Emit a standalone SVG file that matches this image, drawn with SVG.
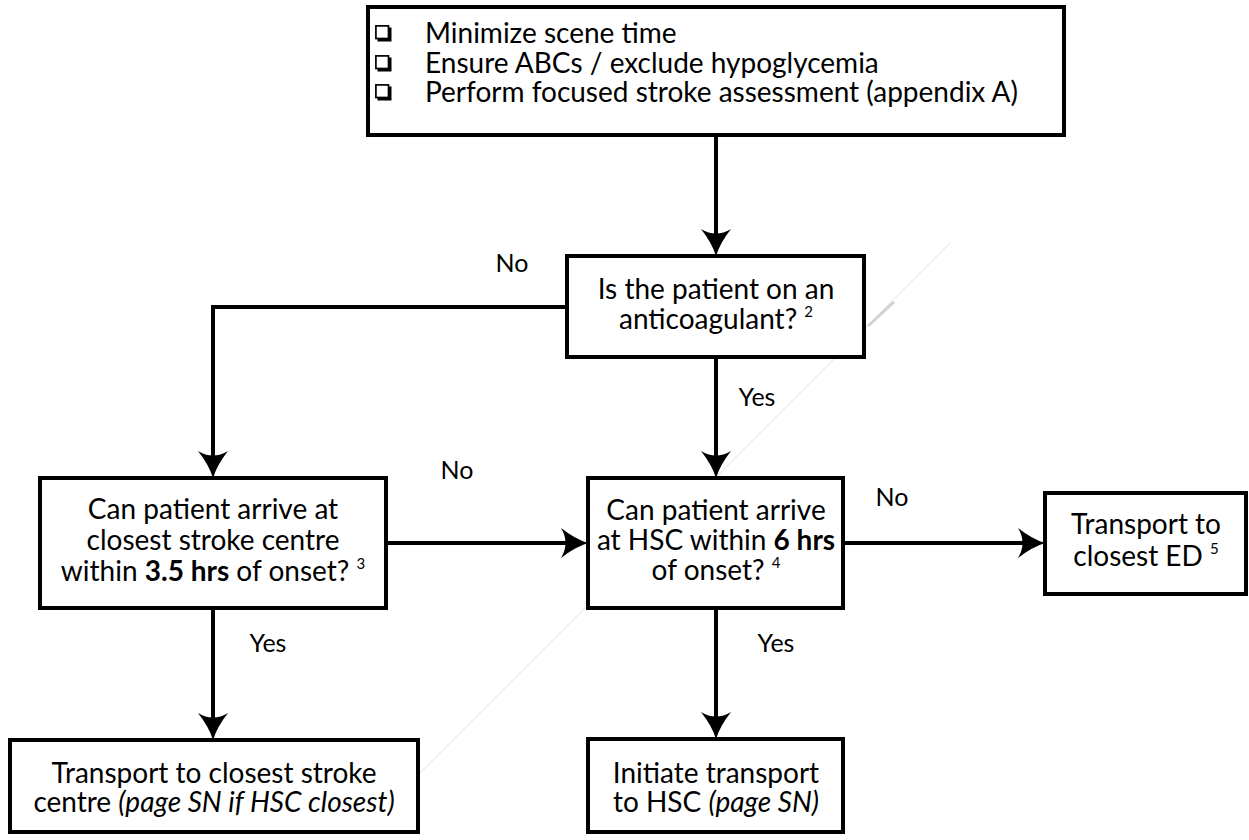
<svg xmlns="http://www.w3.org/2000/svg" width="1249" height="840" viewBox="0 0 1249 840">
<style>
.box{fill:#fff;stroke:#000;stroke-width:4}
.con{fill:none;stroke:#000;stroke-width:4}
text{font-family:Lato,"Open Sans","Liberation Sans",sans-serif;font-size:28px;fill:#000}
.lbl{font-size:25px;text-anchor:middle}
.c{text-anchor:middle}
.b{font-weight:bold}
.i{font-style:italic}
.sup{font-size:15px}
.cb{fill:none;stroke:#000;stroke-width:1.7}
</style>
<defs>
<marker id="ah" markerUnits="userSpaceOnUse" viewBox="-28 -16 29 32" markerWidth="29" markerHeight="32" refX="-10" refY="0" orient="auto">
<path d="M0,0 Q-13,-4 -27,-15 Q-18,0 -27,15 Q-13,4 0,0 Z" fill="#000"/>
</marker>
<g id="chk">
<rect x="0.9" y="0.9" width="12.6" height="12.6" class="cb"/>
<path d="M2.5,13.5 H16.5 V16.5 H2.5 Z M13.5,2.5 H16.5 V16.5 H13.5 Z" fill="#000"/>
</g>
</defs>
<rect width="1249" height="840" fill="#fff"/>
<g id="stray">
<line x1="418" y1="775" x2="950" y2="243" stroke="#e2e2e2" stroke-width="1"/>
<line x1="868" y1="326" x2="894" y2="302" stroke="#d2d2d2" stroke-width="3"/>
</g>
<g id="connectors">
<path class="con" d="M716,135 V246" marker-end="url(#ah)"/>
<path class="con" d="M567,307 H213 V468" marker-end="url(#ah)"/>
<path class="con" d="M716,357 V468" marker-end="url(#ah)"/>
<path class="con" d="M386,543 H578" marker-end="url(#ah)"/>
<path class="con" d="M843,543 H1035" marker-end="url(#ah)"/>
<path class="con" d="M213,608 V730" marker-end="url(#ah)"/>
<path class="con" d="M716,608 V729" marker-end="url(#ah)"/>
<text class="lbl" x="512" y="272">No</text>
<text class="lbl" x="757" y="406">Yes</text>
<text class="lbl" x="457" y="479">No</text>
<text class="lbl" x="892" y="506">No</text>
<text class="lbl" x="268" y="652">Yes</text>
<text class="lbl" x="776" y="652">Yes</text>
</g>
<g id="n-start">
<rect class="box" x="368" y="7" width="696" height="128"/>
<use href="#chk" x="375" y="25"/>
<use href="#chk" x="375" y="55"/>
<use href="#chk" x="375" y="84"/>
<text x="425" y="43">Minimize scene time</text>
<text x="425" y="73">Ensure ABCs / exclude hypoglycemia</text>
<text x="425" y="102">Perform focused stroke assessment (appendix A)</text>
</g>
<g id="n-anticoag">
<rect class="box" x="567" y="256" width="297" height="101"/>
<text class="c" x="716" y="299">Is the patient on an</text>
<text class="c" x="716" y="329">anticoagulant? <tspan class="sup" dy="-12">2</tspan></text>
</g>
<g id="n-closest">
<rect class="box" x="40" y="478" width="346" height="130"/>
<text class="c" x="213" y="519">Can patient arrive at</text>
<text class="c" x="213" y="550">closest stroke centre</text>
<text class="c" x="213" y="581">within <tspan class="b">3.5 hrs</tspan> of onset? <tspan class="sup" dy="-12">3</tspan></text>
</g>
<g id="n-hsc">
<rect class="box" x="588" y="478" width="255" height="130"/>
<text class="c" x="716" y="520">Can patient arrive</text>
<text class="c" x="716" y="550">at HSC within <tspan class="b">6 hrs</tspan></text>
<text class="c" x="716" y="580">of onset? <tspan class="sup" dy="-12">4</tspan></text>
</g>
<g id="n-ed">
<rect class="box" x="1045" y="493" width="201" height="101"/>
<text class="c" x="1146" y="534">Transport to</text>
<text class="c" x="1146" y="566">closest ED <tspan class="sup" dy="-12">5</tspan></text>
</g>
<g id="n-stroke">
<rect class="box" x="10" y="740" width="408" height="92"/>
<text class="c" x="214" y="783">Transport to closest stroke</text>
<text class="c" x="214" y="812">centre <tspan class="i">(page SN if HSC closest)</tspan></text>
</g>
<g id="n-transport">
<rect class="box" x="588" y="739" width="255" height="93"/>
<text class="c" x="716" y="783">Initiate transport</text>
<text class="c" x="716" y="812">to HSC <tspan class="i">(page SN)</tspan></text>
</g>
</svg>
